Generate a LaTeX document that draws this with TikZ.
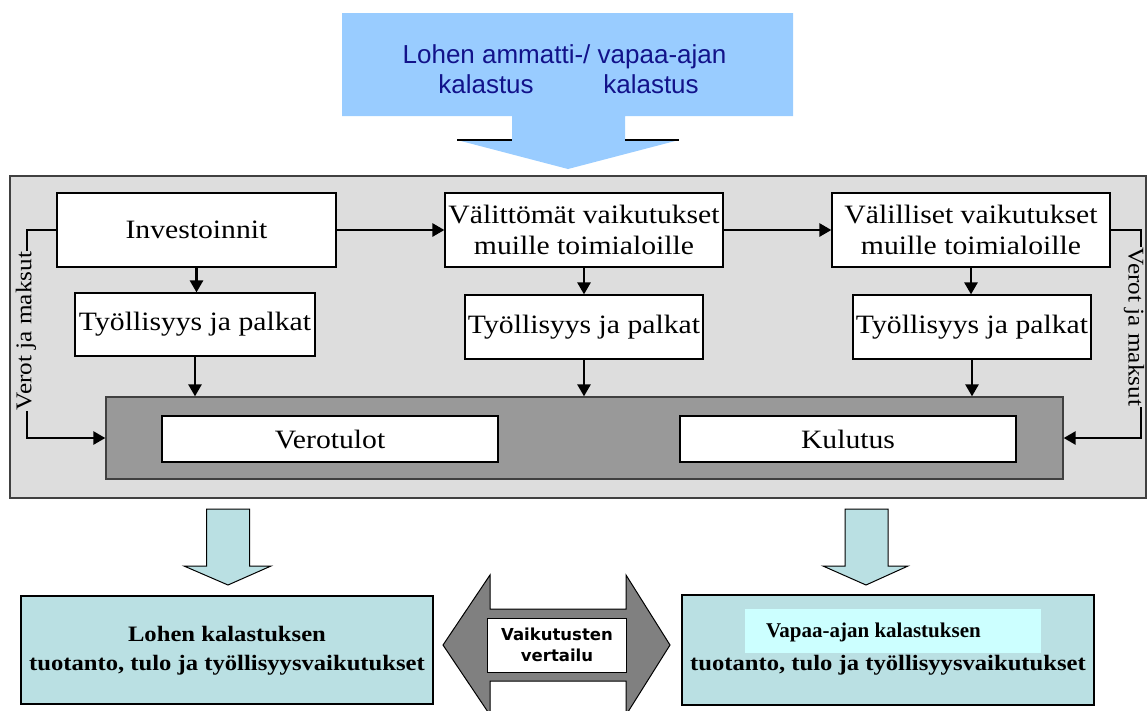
\documentclass[tikz,border=0pt]{standalone}
\usepackage{fontspec}
\setmainfont{Liberation Serif}[FakeStretch=1.12]
\newfontfamily\timesfont{Liberation Serif}
\newfontfamily\arialfont{Liberation Sans}
\newfontfamily\verdanafont{DejaVu Sans}
\usetikzlibrary{arrows.meta}
\definecolor{topblue}{HTML}{99CCFF}
\definecolor{navytxt}{HTML}{12128A}
\definecolor{panelgrey}{HTML}{DDDDDD}
\definecolor{darkbox}{HTML}{999999}
\definecolor{resteal}{HTML}{BAE0E3}
\definecolor{hilite}{HTML}{CCFFFF}
\definecolor{arrowgrey}{HTML}{808080}
\definecolor{panelborder}{HTML}{404040}
\begin{document}
\begin{tikzpicture}[x=1pt,y=-1pt,
  box/.style={draw=black, line width=1.2pt, fill=white, inner sep=0pt, align=center,
    font=\fontsize{26.5}{31}\selectfont},
  flow/.style={line width=2.6pt, -{Triangle[length=12pt,width=13pt]}},
  vlab/.style={fill=panelgrey, inner sep=1pt, font=\fontsize{22.5}{24}\selectfont},
  resbox/.style={draw=black, line width=1.2pt, fill=resteal, inner sep=0pt, align=center},
  restext/.style={inner sep=0pt, font=\fontsize{22}{29}\selectfont\bfseries, align=center},
  toptext/.style={inner sep=0pt, text=navytxt, font=\arialfont\fontsize{26}{30}\selectfont, anchor=base},
  blockarrow/.style={draw=black, line width=1pt, fill=resteal, line join=miter}
]
\useasboundingbox (0,0) rectangle (1147,710);

% top callout
\fill[topblue] (342,13) -- (793,13) -- (793,116) -- (625,116) -- (625,140) -- (679,140)
  -- (568,169) -- (457,140) -- (512,140) -- (512,116) -- (342,116) -- cycle;
\draw[line width=1.8pt] (457,140) -- (512,140);
\draw[line width=1.8pt] (625,140) -- (679,140);
\node[toptext] (t1) at (564.5,63) {Lohen ammatti-/ vapaa-ajan};
\node[toptext] (t2) at (486,93) {kalastus};
\node[toptext] (t3) at (651,93) {kalastus};

% panel
\node[draw=panelborder, line width=1.3pt, fill=panelgrey, minimum width=1136pt, minimum height=322pt, inner sep=0pt] (panel) at (578,337) {};

% top row
\node[box, minimum width=279pt, minimum height=74pt] (inv) at (196.5,230) {Investoinnit};
\node[box, minimum width=278pt, minimum height=74pt] (dir) at (584,230) {Välittömät vaikutukset\\muille toimialoille};
\node[box, minimum width=278pt, minimum height=74pt] (ind) at (971,230) {Välilliset vaikutukset\\muille toimialoille};

% employment row
\node[box, minimum width=240pt, minimum height=63pt] (emp1) at (195,324.5) {Työllisyys ja palkat};
\node[box, minimum width=238pt, minimum height=64pt] (emp2) at (584,327) {Työllisyys ja palkat};
\node[box, minimum width=238pt, minimum height=64pt] (emp3) at (972,327) {Työllisyys ja palkat};

% dark box
\node[draw=panelborder, line width=1.3pt, fill=darkbox, minimum width=957pt, minimum height=82pt, inner sep=0pt] (dark) at (584.5,438) {};
\node[box, minimum width=336pt, minimum height=46pt] (vero) at (330,439) {Verotulot};
\node[box, minimum width=336pt, minimum height=46pt] (kul) at (848,439) {Kulutus};

% connectors
\draw[flow] (inv.east) -- (dir.west);
\draw[flow] (dir.east) -- (ind.west);
\draw[flow] (inv.south) -- (inv.south |- emp1.north);
\draw[flow] (dir.south) -- (dir.south |- emp2.north);
\draw[flow] (ind.south) -- (ind.south |- emp3.north);
\draw[flow] (emp1.south) -- (emp1.south |- dark.north);
\draw[flow] (emp2.south) -- (emp2.south |- dark.north);
\draw[flow] (emp3.south) -- (emp3.south |- dark.north);
\coordinate (lc) at (27,230);
\coordinate (rc) at (1141,230);
\draw[flow] (inv.west) -- (lc) |- (dark.west);
\draw[flow] (ind.east) -- (rc) |- (dark.east);
\node[vlab, rotate=90] (llab) at (26,331) {Verot ja maksut};
\node[vlab, rotate=-90] (rlab) at (1134,327) {Verot ja maksut};

% down block arrows
\draw[blockarrow] (206.5,509) -- (249.5,509) -- (249.5,566) -- (271,566) -- (228,585)
  -- (184,566) -- (206.5,566) -- cycle;
\draw[blockarrow] (845,509) -- (888,509) -- (888,566) -- (908,566) -- (866,585)
  -- (823,566) -- (845,566) -- cycle;

% result boxes
\node[resbox, minimum width=412pt, minimum height=108pt] (lres) at (227,650) {};
\node[restext] (ltext) at (227,650.5) {Lohen kalastuksen\\tuotanto, tulo ja työllisyysvaikutukset};
\node[resbox, minimum width=412pt, minimum height=110pt] (rres) at (888,650) {};
\node[fill=hilite, minimum width=296pt, minimum height=44pt, inner sep=0pt] (hl) at (893,631) {};
\node[inner sep=0pt, font=\timesfont\fontsize{21}{24}\selectfont\bfseries] (rtext1) at (873.5,632) {Vapaa-ajan kalastuksen};
\node[restext] (rtext2) at (888,665) {tuotanto, tulo ja työllisyysvaikutukset};

% double arrow
\begin{scope}
\clip (0,0) rectangle (1147,710);
\draw[draw=black, line width=1pt, fill=arrowgrey, line join=miter] (443,645) -- (490,575) -- (490,609)
  -- (626,609) -- (626,575) -- (670,645) -- (626,715) -- (626,681) -- (490,681) -- (490,715) -- cycle;
\end{scope}
\node[draw=black, line width=1pt, fill=white, minimum width=139pt, minimum height=54pt, inner sep=0pt,
  align=center, font=\verdanafont\fontsize{16.5}{21}\selectfont\bfseries] (cmp) at (557,645) {Vaikutusten\\vertailu};
\end{tikzpicture}
\end{document}
